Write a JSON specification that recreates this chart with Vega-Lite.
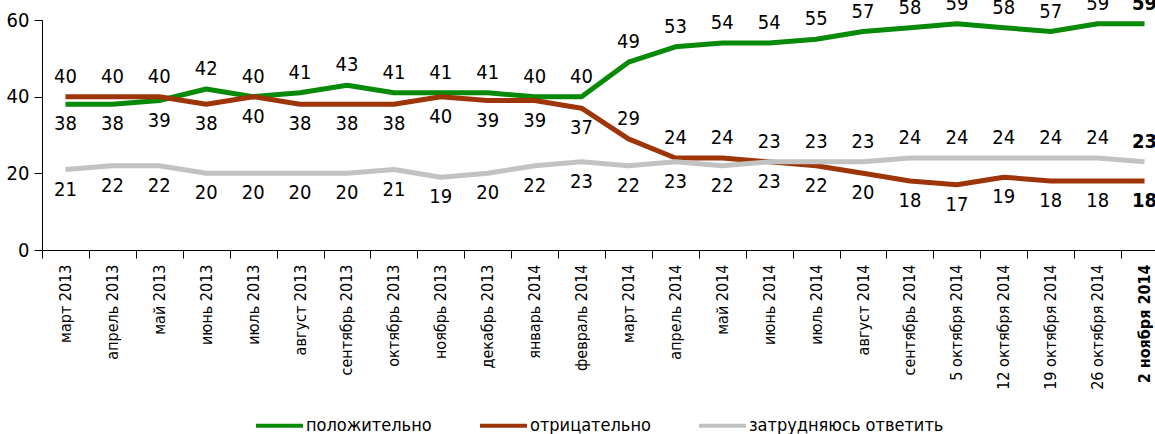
{
  "$schema": "https://vega.github.io/schema/vega-lite/v6.json",
  "width": 1113,
  "height": 230,
  "autosize": {"type": "none"},
  "padding": {"left": 42, "top": 20, "right": 0, "bottom": 184},
  "background": "white",
  "config": {"font": "DejaVu Sans Condensed, sans-serif", "view": {"stroke": null}},
  "data": {"values": [
    {"d": "март 2013", "положительно": 38, "отрицательно": 40, "затрудняюсь ответить": 21},
    {"d": "апрель 2013", "положительно": 38, "отрицательно": 40, "затрудняюсь ответить": 22},
    {"d": "май 2013", "положительно": 39, "отрицательно": 40, "затрудняюсь ответить": 22},
    {"d": "июнь 2013", "положительно": 42, "отрицательно": 38, "затрудняюсь ответить": 20},
    {"d": "июль 2013", "положительно": 40, "отрицательно": 40, "затрудняюсь ответить": 20},
    {"d": "август 2013", "положительно": 41, "отрицательно": 38, "затрудняюсь ответить": 20},
    {"d": "сентябрь 2013", "положительно": 43, "отрицательно": 38, "затрудняюсь ответить": 20},
    {"d": "октябрь 2013", "положительно": 41, "отрицательно": 38, "затрудняюсь ответить": 21},
    {"d": "ноябрь 2013", "положительно": 41, "отрицательно": 40, "затрудняюсь ответить": 19},
    {"d": "декабрь 2013", "положительно": 41, "отрицательно": 39, "затрудняюсь ответить": 20},
    {"d": "январь 2014", "положительно": 40, "отрицательно": 39, "затрудняюсь ответить": 22},
    {"d": "февраль 2014", "положительно": 40, "отрицательно": 37, "затрудняюсь ответить": 23},
    {"d": "март 2014", "положительно": 49, "отрицательно": 29, "затрудняюсь ответить": 22},
    {"d": "апрель 2014", "положительно": 53, "отрицательно": 24, "затрудняюсь ответить": 23},
    {"d": "май 2014", "положительно": 54, "отрицательно": 24, "затрудняюсь ответить": 22},
    {"d": "июнь 2014", "положительно": 54, "отрицательно": 23, "затрудняюсь ответить": 23},
    {"d": "июль 2014", "положительно": 55, "отрицательно": 22, "затрудняюсь ответить": 23},
    {"d": "август 2014", "положительно": 57, "отрицательно": 20, "затрудняюсь ответить": 23},
    {"d": "сентябрь 2014", "положительно": 58, "отрицательно": 18, "затрудняюсь ответить": 24},
    {"d": "5 октября 2014", "положительно": 59, "отрицательно": 17, "затрудняюсь ответить": 24},
    {"d": "12 октября 2014", "положительно": 58, "отрицательно": 19, "затрудняюсь ответить": 24},
    {"d": "19 октября 2014", "положительно": 57, "отрицательно": 18, "затрудняюсь ответить": 24},
    {"d": "26 октября 2014", "положительно": 59, "отрицательно": 18, "затрудняюсь ответить": 24},
    {"d": "2 ноября 2014", "положительно": 59, "отрицательно": 18, "затрудняюсь ответить": 23}
  ]},
  "transform": [
    {"fold": ["положительно", "отрицательно", "затрудняюсь ответить"], "as": ["s", "v"]}
  ],
  "encoding": {
    "x": {
      "field": "d", "type": "nominal", "sort": null, "bandPosition": 0.5,
      "scale": {"type": "band", "paddingInner": 0, "paddingOuter": 0, "range": [0, 1126]},
      "axis": {
        "title": null, "labelAngle": -90, "labelAlign": "right", "labelBaseline": "middle",
        "labelFontSize": 16, "labelColor": "black", "tickBand": "extent", "tickSize": 8,
        "tickColor": "black", "domainColor": "black", "labelPadding": 6, "labelOverlap": false, "labelLimit": 300,
        "labelFontWeight": {"condition": {"test": "datum.value === '2 ноября 2014'", "value": "bold"}, "value": "normal"}
      }
    },
    "y": {
      "field": "v", "type": "quantitative",
      "scale": {"domain": [0, 60]},
      "axis": {
        "title": null, "values": [0, 20, 40, 60], "tickSize": 8, "labelFontSize": 20,
        "labelPadding": 5, "grid": false, "domainColor": "black", "tickColor": "black", "labelColor": "black"
      }
    }
  },
  "layer": [
    {
      "mark": {"type": "line", "strokeWidth": 5, "strokeJoin": "round"},
      "encoding": {
        "color": {
          "field": "s", "type": "nominal",
          "scale": {"domain": ["положительно", "отрицательно", "затрудняюсь ответить"], "range": ["#078A07", "#9E3508", "#C2C2C2"]},
          "legend": {
            "title": null, "orient": "none", "legendX": 212, "legendY": 380, "direction": "horizontal",
            "symbolType": "stroke", "symbolSize": 2209, "symbolStrokeWidth": 4,
            "labelFontSize": 18, "labelOffset": 1, "columnPadding": 40, "labelColor": "black", "labelLimit": 400
          }
        }
      }
    },
    {
      "transform": [
        {"window": [{"op": "row_number", "as": "rk"}], "groupby": ["d"], "sort": [{"field": "v", "order": "descending"}]},
        {"joinaggregate": [{"op": "max", "field": "v", "as": "mx"}, {"op": "min", "field": "v", "as": "mn"}], "groupby": ["d"]},
        {"filter": "datum.rk == 1 || (datum.rk == 2 && (datum.mx - datum.v) > (datum.v - datum.mn))"}
      ],
      "mark": {"type": "text", "dy": -20, "fontSize": 20, "color": "black", "baseline": "middle",
        "fontWeight": {"expr": "datum.d === '2 ноября 2014' ? 'bold' : 'normal'"}},
      "encoding": {"text": {"field": "v", "type": "quantitative"}}
    },
    {
      "transform": [
        {"window": [{"op": "row_number", "as": "rk"}], "groupby": ["d"], "sort": [{"field": "v", "order": "descending"}]},
        {"joinaggregate": [{"op": "max", "field": "v", "as": "mx"}, {"op": "min", "field": "v", "as": "mn"}], "groupby": ["d"]},
        {"filter": "!(datum.rk == 1 || (datum.rk == 2 && (datum.mx - datum.v) > (datum.v - datum.mn)))"}
      ],
      "mark": {"type": "text", "dy": 20, "fontSize": 20, "color": "black", "baseline": "middle",
        "fontWeight": {"expr": "datum.d === '2 ноября 2014' ? 'bold' : 'normal'"}},
      "encoding": {"text": {"field": "v", "type": "quantitative"}}
    }
  ]
}
